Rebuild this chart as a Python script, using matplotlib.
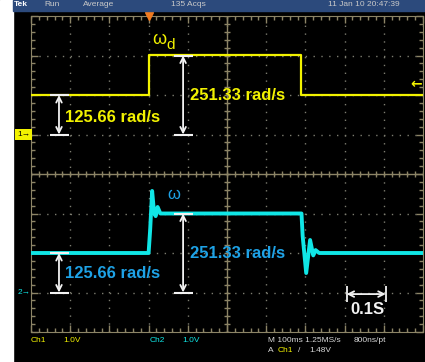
import numpy as np
import matplotlib
matplotlib.use("Agg")
import matplotlib.pyplot as plt
from matplotlib.patches import Rectangle

plt.rcParams['font.family'] = ['Liberation Sans', 'DejaVu Sans']

# scope settings: 100 ms/div horizontally, 125.66 rad/s per div vertically
rad_per_div = 125.66
ch1_ground = 1.0
ch2_ground = -3.0

# Ch1: speed command (omega_d), rad/s
ch1_t = [0.0, 0.300, 0.300, 0.690, 0.690, 1.0]
ch1_w = [125.66, 125.66, 251.33, 251.33, 125.66, 125.66]

# Ch2: measured speed (omega), rad/s
ch2_t = [0.0, 0.300, 0.304, 0.309, 0.314, 0.318, 0.323, 0.330,
         0.690, 0.693, 0.702, 0.712, 0.720, 0.726, 0.735, 1.0]
ch2_w = [125.66, 125.66, 200, 323, 253, 243, 272, 251.33,
         251.33, 180, 62, 167, 118, 135, 125.66, 125.66]

yellow = '#f2f200'
cyan = '#10e6e6'
blue_txt = '#1ea2e6'
grat = '#8c8466'
white = '#f2f2f2'

W, H = 425, 362
fig = plt.figure(figsize=(W / 100, H / 100), dpi=100, facecolor='black')
fig.patches.append(Rectangle((0, 0), 13 / W, 1, transform=fig.transFigure,
                             color='white', zorder=0))
fig.patches.append(Rectangle((13 / W, 1 - 11 / H), 412 / W, 11 / H,
                             transform=fig.transFigure, color='#2c4a7c', zorder=0))

ax = fig.add_axes([31 / W, 30 / H, 392 / W, 316 / H])
ax.set_facecolor('black')
ax.set_xlim(0, 1.0)
ax.set_ylim(-4, 4)

# graticule
ax.set_xticks(np.arange(0, 1.01, 0.1))
ax.set_xticks(np.arange(0, 1.01, 0.02), minor=True)
ax.set_yticks(np.arange(-4, 4.1, 1))
ax.set_yticks(np.arange(-4, 4.1, 0.2), minor=True)
ax.tick_params(which='both', direction='in', colors=grat, top=True, right=True,
               labelbottom=False, labelleft=False)
ax.tick_params(which='major', length=5, width=1)
ax.tick_params(which='minor', length=3, width=1)
for s in ax.spines.values():
    s.set_color(grat)
ax.grid(True, which='major', color='#7c7c70', linestyle=(0, (1, 4.64)), lw=1)
ax.axhline(0, color=grat, lw=1)
ax.axvline(0.5, color=grat, lw=1)
mx = np.arange(0, 1.01, 0.02)
my = np.arange(-4, 4.1, 0.2)
ax.plot(mx, np.zeros_like(mx), ls='none', marker='|', ms=5, mew=1, color=grat)
ax.plot(np.full_like(my, 0.5), my, ls='none', marker='_', ms=5, mew=1, color=grat)

# traces
ax.plot(ch1_t, np.array(ch1_w) / rad_per_div + ch1_ground, color=yellow, lw=1.6, zorder=5)
ax.plot(ch2_t, np.array(ch2_w) / rad_per_div + ch2_ground, color=cyan, lw=2.8, zorder=5)

# dimension arrows
def vdim(x, y0, y1, x0, x1):
    ax.annotate('', xy=(x, y0), xytext=(x, y1),
                arrowprops=dict(arrowstyle='<->', color=white, lw=1.3,
                                shrinkA=0, shrinkB=0), zorder=6)
    ax.hlines([y0, y1], x0, x1, color=white, lw=1.5, zorder=6)

vdim(0.0714, 2.0, 1.0, 0.048, 0.098)
vdim(0.388, 3.0, 1.0, 0.364, 0.414)
vdim(0.0714, -2.0, -3.0, 0.048, 0.098)
vdim(0.388, -1.0, -3.0, 0.364, 0.414)
ax.annotate('', xy=(0.805, -3.04), xytext=(0.905, -3.04),
            arrowprops=dict(arrowstyle='<->', color=white, lw=1.3,
                            shrinkA=0, shrinkB=0), zorder=6)
ax.vlines([0.805, 0.905], -3.24, -2.84, color=white, lw=1.3, zorder=6)

lab = dict(fontsize=12, fontweight='bold', va='center', ha='left', zorder=7)
ax.text(0.087, 1.44, '125.66 rad/s', color=yellow, **lab)
ax.text(0.405, 2.0, '251.33 rad/s', color=yellow, **lab)
ax.text(0.087, -2.53, '125.66 rad/s', color=blue_txt, **lab)
ax.text(0.405, -2.0, '251.33 rad/s', color=blue_txt, **lab)
ax.text(0.857, -3.44, '0.1S', color=white, fontsize=12, fontweight='bold',
        ha='center', va='center', zorder=7)
ax.text(0.309, 3.4, 'ω', color=yellow, fontsize=13, ha='left', va='center')
ax.text(0.345, 3.27, 'd', color=yellow, fontsize=11, ha='left', va='center')
ax.text(0.348, -0.53, 'ω', color=blue_txt, fontsize=12, ha='left', va='center')

# markers on the graticule edges
ax.plot([0.3], [4.0], marker='v', ms=6, color='#f07a20', clip_on=False, zorder=8)
ax.text(-0.002, ch1_ground, '1→', color='black', fontsize=6, ha='right', va='center',
        bbox=dict(boxstyle='square,pad=0.25', fc=yellow, ec='none'), clip_on=False)
ax.text(-0.002, ch2_ground, '2→', color=cyan, fontsize=6, ha='right', va='center',
        clip_on=False)
ax.text(0.998, 2.27, '←', color=yellow, fontsize=10, fontweight='bold',
        family='DejaVu Sans', ha='right', va='center', zorder=8)

# header bar
def ftext(x, y, s, **kw):
    fig.text(x / W, 1 - y / H, s, va='center', ha='left', fontsize=6, **kw)

ftext(14, 5, 'Tek', color='white', fontweight='bold')
ftext(44, 5, 'Run', color='#c8c8c8')
ftext(83, 5, 'Average', color='#c8c8c8')
ftext(171, 5, '135 Acqs', color='#c8c8c8')
ftext(328, 5, '11 Jan 10 20:47:39', color='#c8c8c8')

# footer
ftext(31, 340, 'Ch1', color=yellow)
ftext(63, 340, '1.0V', color=yellow)
ftext(150, 340, 'Ch2', color=cyan)
ftext(182, 340, '1.0V', color=cyan)
ftext(268, 340, 'M 100ms 1.25MS/s', color='#d8d8d8')
ftext(354, 340, '800ns/pt', color='#d8d8d8')
ftext(268, 350, 'A', color='#d8d8d8')
ftext(278, 350, 'Ch1', color=yellow)
ftext(298, 350, '/', color='#d8d8d8')
ftext(309, 350, '1.48V', color='#d8d8d8')

fig.savefig('out.png', dpi=100, facecolor='black')
